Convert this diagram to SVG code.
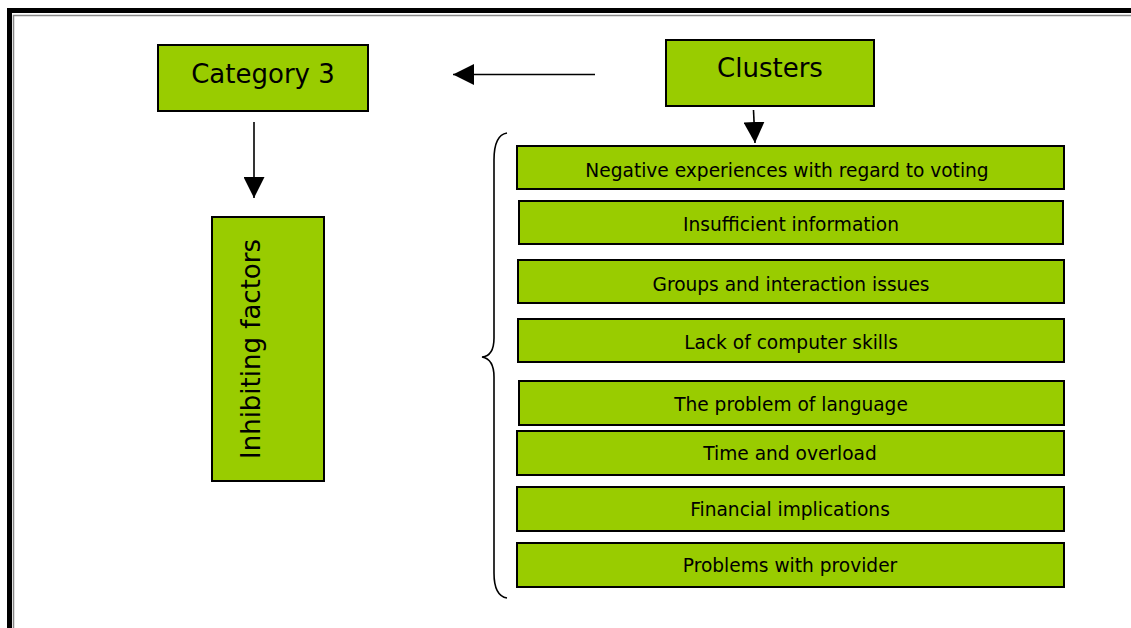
<svg xmlns="http://www.w3.org/2000/svg" width="1131" height="628" viewBox="0 0 1131 628">
<defs>
<style>
.box{fill:#99CC00;stroke:#000;stroke-width:2}
.big{font-family:"DejaVu Sans",Verdana,sans-serif;font-size:26px;fill:#000;text-anchor:middle}
.sm{font-family:"DejaVu Sans",Verdana,sans-serif;font-size:18.6px;fill:#000;text-anchor:middle}
.ln{stroke:#000;stroke-width:1.6;fill:none}
</style>
<marker id="ah" viewBox="0 0 10 10" refX="10" refY="5" markerWidth="21" markerHeight="21" markerUnits="userSpaceOnUse" orient="auto">
<path d="M0,0 L10,5 L0,10 z" fill="#000"/>
</marker>
</defs>
<rect width="1131" height="628" fill="#fff"/>
<g id="frame">
<rect x="9.5" y="10.5" width="1140" height="640" fill="none" stroke="#000" stroke-width="5"/>
<rect x="13.5" y="15.5" width="1140" height="640" fill="none" stroke="#888" stroke-width="1.5"/>
</g>
<g id="category3"><rect class="box" x="158" y="45" width="210" height="66"/><text class="big" x="263" y="83">Category 3</text></g>
<g id="clusters"><rect class="box" x="666" y="40" width="208" height="66"/><text class="big" x="770" y="77">Clusters</text></g>
<g id="inhibiting"><rect class="box" x="212" y="217" width="112" height="264"/><text class="big" transform="translate(260,349) rotate(-90)">Inhibiting factors</text></g>
<g id="c1"><rect class="box" x="517" y="146" width="547" height="43"/><text class="sm" x="787" y="176.5">Negative experiences with regard to voting</text></g>
<g id="c2"><rect class="box" x="519" y="201" width="544" height="43"/><text class="sm" x="791" y="231">Insufficient information</text></g>
<g id="c3"><rect class="box" x="518" y="260" width="546" height="43"/><text class="sm" x="791" y="290.5">Groups and interaction issues</text></g>
<g id="c4"><rect class="box" x="518" y="319" width="546" height="43"/><text class="sm" x="791" y="349">Lack of computer skills</text></g>
<g id="c5"><rect class="box" x="519" y="381" width="545" height="44"/><text class="sm" x="791" y="411">The problem of language</text></g>
<g id="c6"><rect class="box" x="517" y="431" width="547" height="44"/><text class="sm" x="790" y="460">Time and overload</text></g>
<g id="c7"><rect class="box" x="517" y="487" width="547" height="44"/><text class="sm" x="790" y="516">Financial implications</text></g>
<g id="c8"><rect class="box" x="517" y="543" width="547" height="44"/><text class="sm" x="790" y="571.5">Problems with provider</text></g>
<g id="connectors">
<line class="ln" x1="595" y1="74.5" x2="453" y2="74.5" marker-end="url(#ah)"/>
<line class="ln" x1="753.5" y1="110" x2="755" y2="143" marker-end="url(#ah)"/>
<line class="ln" x1="254" y1="122" x2="254" y2="198" marker-end="url(#ah)"/>
<path class="ln" d="M507,133 Q494,135 494,160 L494,338 Q494,356 482,357 Q494,359 494,377 L494,573 Q494,596 507,598"/>
</g>
</svg>
